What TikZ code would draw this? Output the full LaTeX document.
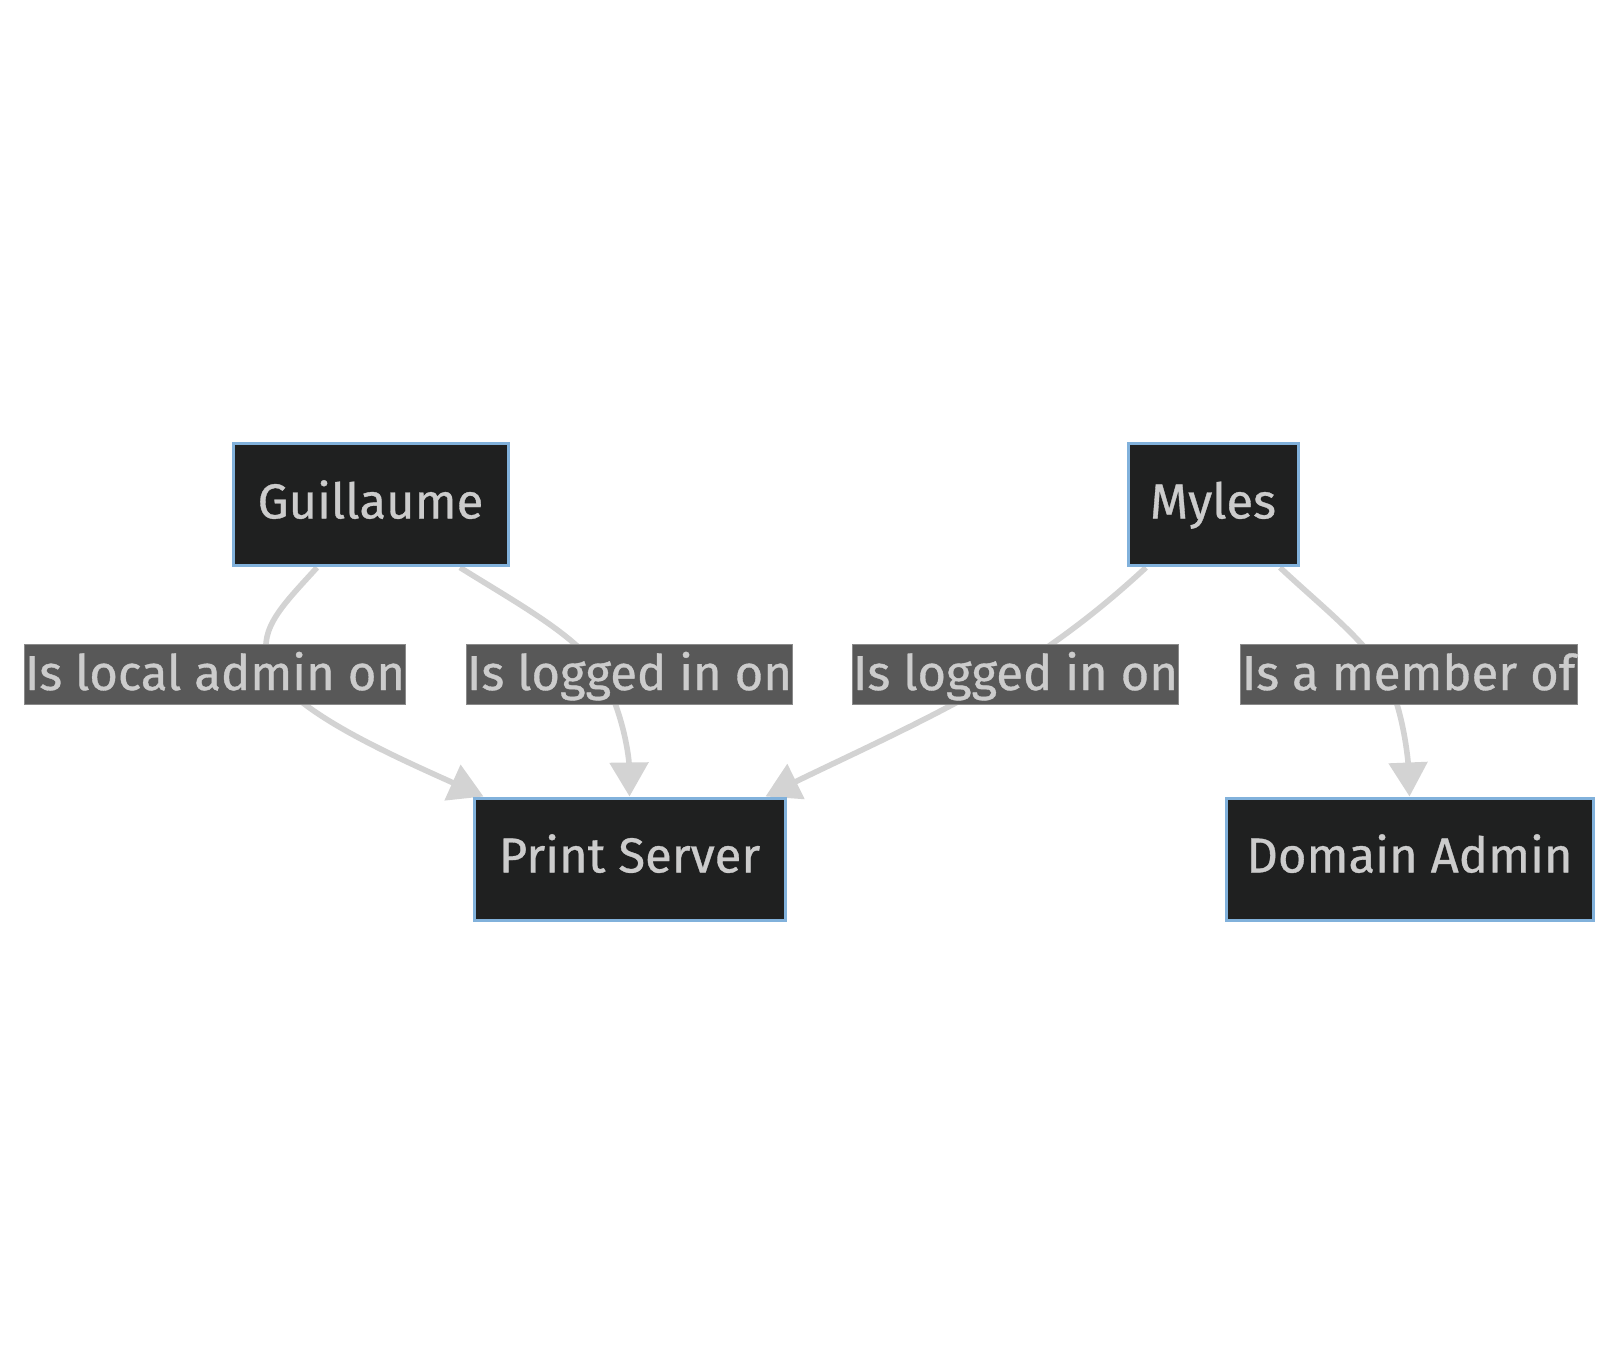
\documentclass[tikz,border=0pt]{standalone}
\usepackage{fontspec}
\newfontfamily\diagfont{Fira Sans}[FakeBold=0.7]
\usetikzlibrary{arrows.meta,calc,backgrounds}
\definecolor{nodefill}{HTML}{1F2020}
\definecolor{nodeborder}{HTML}{81B1DB}
\definecolor{txt}{HTML}{CCCCCC}
\definecolor{edgecol}{HTML}{D3D3D3}
\definecolor{labelbg}{HTML}{585858}
\definecolor{labelborder}{HTML}{8A8A8A}
\tikzset{
  boxnode/.style={draw=nodeborder, line width=1.5pt, fill=nodefill, text=txt,
    minimum height=61pt, inner sep=0pt, text height=19pt, text depth=5.6pt,
    font=\diagfont\fontsize{24.5}{29}\selectfont},
  edgelabel/.style={draw=labelborder, line width=0.5pt, fill=labelbg, text=txt,
    minimum height=29.5pt, inner sep=0pt, text height=17.5pt, text depth=2pt,
    font=\diagfont\fontsize{24.5}{29}\selectfont},
  edgeline/.style={draw=edgecol, line width=2.8pt,
    -{Triangle[width=19pt,length=17pt]}}
}
\begin{document}
\begin{tikzpicture}[x=0.5pt,y=-0.5pt]
\useasboundingbox (0,0) rectangle (1617,1363);
% nodes
\node[boxnode, minimum width=137.5pt] (G) at (370.5,505) {Guillaume};
\node[boxnode, minimum width=85pt] (M) at (1213,505) {Myles};
\node[boxnode, minimum width=155.5pt] (P) at (629.5,859) {Print Server};
\node[boxnode, minimum width=183.5pt] (D) at (1409.5,859) {Domain Admin};
% labels
\node[edgelabel, minimum width=190pt] (L1) at (215,674.5) {Is local admin on};
\node[edgelabel, minimum width=161.5pt] (L2) at (629.5,674.5) {Is logged in on};
\node[edgelabel, minimum width=161.5pt] (L3) at (1015.5,674.5) {Is logged in on};
\node[edgelabel, minimum width=168.5pt] (L4) at (1408.5,674.5) {Is a member of};
% edges
\begin{pgfonlayer}{background}
\fill[white] (0,0) rectangle (1617,1363);
\draw[edgeline] ($(G.south)+(-53.5,0)$) .. controls (285,603) and (258,628) .. (268,660)
  .. controls (280,705) and (380,750) .. ($(P.north west)+(11,0)$);
\draw[edgeline] ($(G.south)+(89.5,0)$) .. controls (520,605) and (585,640) .. (605,680)
  .. controls (625,720) and (629,760) .. (P.north);
\draw[edgeline] ($(M.south)+(-67,0)$) .. controls (1100,610) and (1060,640) .. (1010,672)
  .. controls (940,715) and (850,755) .. ($(P.north east)+(-21,0)$);
\draw[edgeline] ($(M.south)+(67,0)$) .. controls (1320,605) and (1365,640) .. (1385,675)
  .. controls (1403,707) and (1408,760) .. (D.north);
\end{pgfonlayer}
\end{tikzpicture}
\end{document}
